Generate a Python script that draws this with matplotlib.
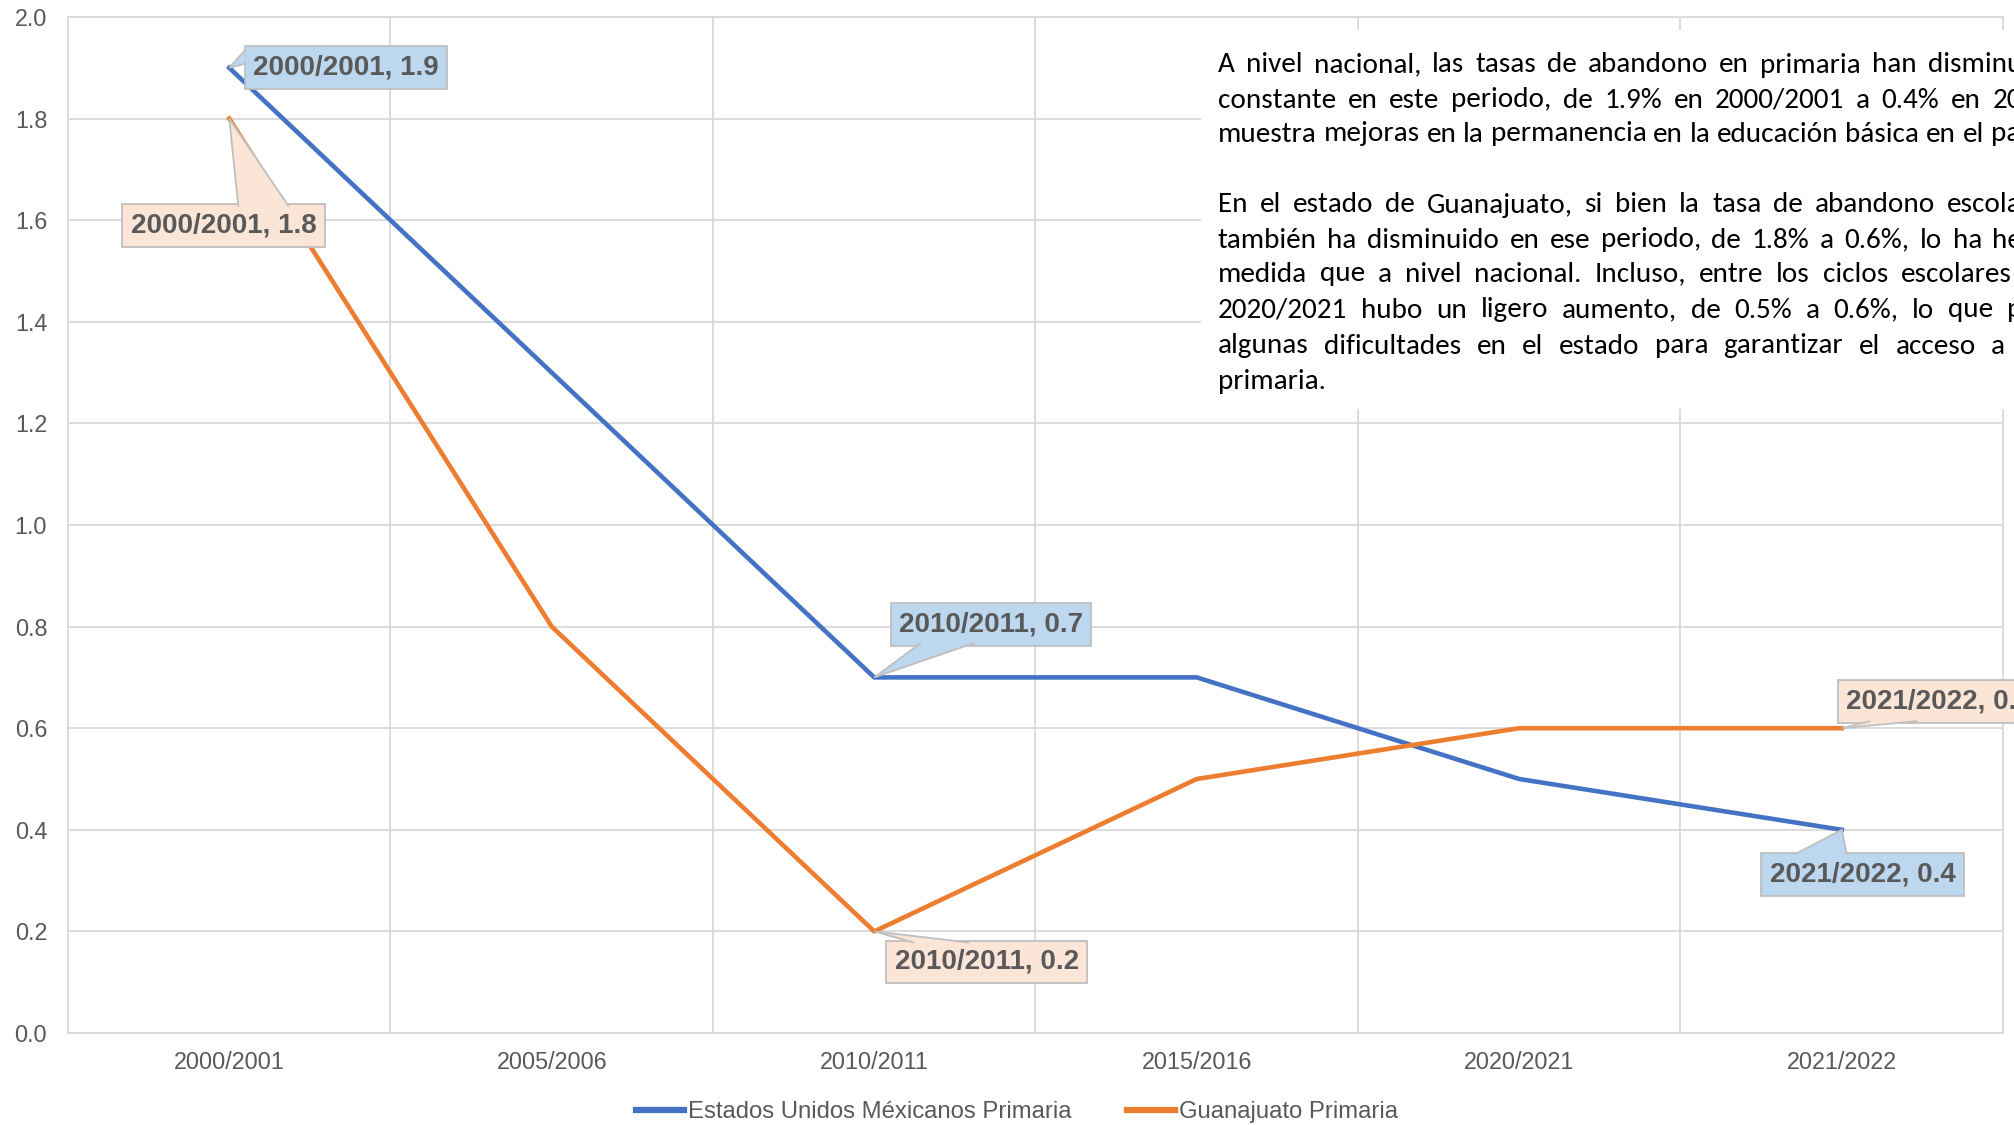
import matplotlib.pyplot as plt
import numpy as np
from matplotlib import font_manager as fm
from matplotlib.patches import Polygon
from matplotlib.transforms import IdentityTransform

# data
ciclos = ['2000/2001', '2005/2006', '2010/2011', '2015/2016', '2020/2021', '2021/2022']
nacional = [1.9, 1.3, 0.7, 0.7, 0.5, 0.4]
guanajuato = [1.8, 0.8, 0.2, 0.5, 0.6, 0.6]

# points that carry a callout label
idx_nacional = [0, 2, 5]
idx_guanajuato = [0, 2, 5]

parrafo = [
    'A nivel nacional, las tasas de abandono en primaria han disminu',
    'constante en este periodo, de 1.9% en 2000/2001 a 0.4% en 20',
    'muestra mejoras en la permanencia en la educación básica en el pa',
    '',
    'En el estado de Guanajuato, si bien la tasa de abandono escola',
    'también ha disminuido en ese periodo, de 1.8% a 0.6%, lo ha he',
    'medida que a nivel nacional. Incluso, entre los ciclos escolares',
    '2020/2021 hubo un ligero aumento, de 0.5% a 0.6%, lo que p',
    'algunas dificultades en el estado para garantizar el acceso a',
    'primaria.',
]

AZUL = '#4472C4'
NARANJA = '#ED7D31'
GRID = '#D9D9D9'
TXT = '#595959'
BORDE = '#BFBFBF'

avail = {f.name for f in fm.fontManager.ttflist}
base_font = 'Liberation Sans' if 'Liberation Sans' in avail else 'DejaVu Sans'
body_font = next((f for f in ['Carlito', 'Liberation Sans Narrow', 'Liberation Sans'] if f in avail), 'DejaVu Sans')
plt.rcParams['font.family'] = [base_font, 'DejaVu Sans']

W, H = 2015, 1125
fig = plt.figure(figsize=(W / 100, H / 100), dpi=100)
ax = fig.add_axes([68 / W, 92 / H, 1935 / W, 1016 / H])

x = np.arange(len(ciclos))
ax.plot(x, nacional, color=AZUL, lw=3.3, label='Estados Unidos Méxicanos Primaria', zorder=3)
ax.plot(x, guanajuato, color=NARANJA, lw=3.3, label='Guanajuato Primaria', zorder=3)

ax.set_xlim(-0.5, len(ciclos) - 0.5)
ax.set_ylim(0, 2.0)
ax.set_yticks(np.arange(0, 2.01, 0.2))
ax.yaxis.set_major_formatter('{x:.1f}')
ax.set_xticks(x, ciclos)
ax.set_xticks(np.arange(-0.5, len(ciclos)), minor=True)
ax.grid(axis='y', which='major', color=GRID, lw=1.3)
ax.grid(axis='x', which='minor', color=GRID, lw=1.3)
ax.tick_params(which='both', length=0, colors=TXT, labelsize=16.8)
ax.tick_params(axis='y', pad=15)
ax.tick_params(axis='x', pad=13)
for s in ax.spines.values():
    s.set_color(GRID)
    s.set_linewidth(1.3)


def callout(i, val, off, base, fc):
    # label box
    ax.annotate(f'{ciclos[i]}, {val}', xy=(i, val), xytext=off, textcoords='offset points',
                ha='center', va='center', fontsize=20, fontweight='bold', color=TXT, zorder=5,
                bbox=dict(boxstyle='square,pad=0.3', fc=fc, ec=BORDE, lw=1.3))
    # pointer wedge (pixel offsets from the point, y downwards)
    px, py = ax.transData.transform((i, val))
    b1 = (px + base[0][0], py - base[0][1])
    b2 = (px + base[1][0], py - base[1][1])
    ax.add_patch(Polygon([b1, (px, py), b2], closed=True, transform=IdentityTransform(),
                         fc=fc, ec='none', zorder=6, clip_on=False))
    ax.plot([b1[0], px, b2[0]], [b1[1], py, b2[1]], transform=IdentityTransform(),
            color=BORDE, lw=1.3, zorder=7, clip_on=False, solid_joinstyle='miter')


# label offsets (points) and wedge base points (pixels)
lay_nac = [((84, 0), [(16, -18), (16, -4)]),
           ((84, 38), [(46, -34), (99, -34)]),
           ((15, -32), [(-46, 24), (5, 24)])]
lay_gto = [((-4, -77), [(9, 87), (59, 87)]),
           ((81, -22), [(39, 11), (94, 11)]),
           ((70, 19), [(28, -7), (75, -7)])]
for i, (off, base) in zip(idx_nacional, lay_nac):
    callout(i, nacional[i], off, base, '#BDD7EE')
for i, (off, base) in zip(idx_guanajuato, lay_gto):
    callout(i, guanajuato[i], off, base, '#FBE5D6')

fig.legend(loc='center', bbox_to_anchor=(1017 / W, 13 / H), ncol=2, frameon=False,
           fontsize=17.2, handlelength=2.0, handletextpad=0.2, columnspacing=2.3,
           labelcolor=TXT)
for h in fig.legends[0].get_lines():
    h.set_linewidth(4.5)

# white text box over the plot area
tax = fig.add_axes([1201 / W, 1 - 409 / H, (W - 1201) / W, (409 - 30) / H])
tax.set_facecolor('white')
tax.set_xticks([])
tax.set_yticks([])
for s in tax.spines.values():
    s.set_visible(False)

renderer = fig.canvas.get_renderer()
probe = fig.text(0, 0, parrafo[2], fontsize=10, family=[body_font, 'DejaVu Sans'])
fs = 10 * 800 / probe.get_window_extent(renderer).width
probe.remove()

left = 1218
rights = [2022, 2022, 2020, None, 2022, 2022, 2012, 2022, 2005, None]
tops = [65, 100, 134, 170, 205, 240, 274, 310, 346, 381]
for line, right, yc in zip(parrafo, rights, tops):
    if not line:
        continue
    words = line.split(' ')
    ts = [fig.text(0, H - yc, w, transform=IdentityTransform(), fontsize=fs,
                   family=[body_font, 'DejaVu Sans'], va='center', color='black') for w in words]
    widths = [t.get_window_extent(renderer).width for t in ts]
    if right is None or len(words) == 1:
        gap = fs * 0.25
    else:
        gap = (right - left - sum(widths)) / (len(words) - 1)
    xp = left
    for t, w in zip(ts, widths):
        t.set_x(xp)
        xp += w + gap

fig.savefig('out.png', dpi=100)
